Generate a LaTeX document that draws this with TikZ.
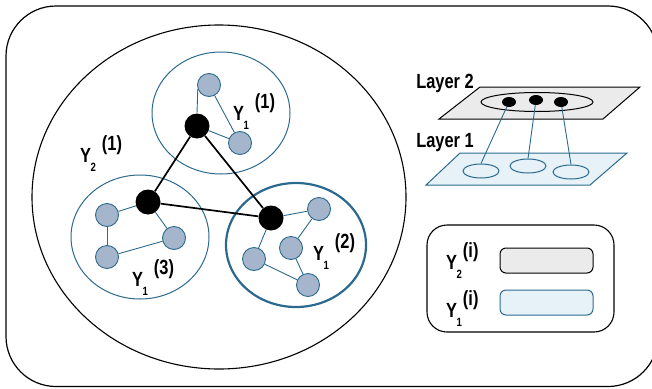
\documentclass[tikz,border=0pt]{standalone}
\usepackage{fontspec}
\setmainfont[FakeStretch=0.8]{Liberation Sans}
\usetikzlibrary{shapes.geometric}

\definecolor{edgeblue}{HTML}{2B6A8E}
\definecolor{leaffill}{HTML}{A5B5CC}
\definecolor{planegrey}{HTML}{EBEBEB}
\definecolor{planeblue}{HTML}{E6F2F8}

% Y with a small subscript and a raised index
\newcommand{\ylab}[3][6pt]{Y\kern-0.5pt\raisebox{-9pt}{\fontsize{12}{12}\selectfont #2}\kern#1\raisebox{12pt}{#3}}

\begin{document}
\begin{tikzpicture}[x=1pt,y=-1pt,
  every node/.style={font=\fontsize{20.5}{24}\selectfont\bfseries},
  leaf/.style={circle,draw=edgeblue,fill=leaffill,line width=0.9pt,minimum size=23pt,inner sep=0pt},
  hub/.style={circle,fill=black,minimum size=25pt,inner sep=0pt},
  link/.style={draw=edgeblue,line width=0.9pt},
  tie/.style={draw=black,line width=1.7pt},
  group/.style={draw=edgeblue,line width=1pt},
  lab/.style={anchor=base west,inner sep=0pt}]
  \useasboundingbox (0,0) rectangle (652,388);
  \clip (0,0) rectangle (652,388);
  \draw[line width=1.2pt,rounded corners=50pt] (6,6) rectangle (658,386.5);

  % layer 2 groups
  \draw[line width=1.1pt] (219,197) ellipse [x radius=187pt, y radius=172pt];
  \draw[group] (221,113) ellipse [x radius=69pt, y radius=61pt];
  \draw[group] (140,237) ellipse [x radius=69pt, y radius=62pt];
  \draw[group,line width=2.2pt] (296,245) ellipse [x radius=70pt, y radius=62pt];

  \node[hub] (top) at (197,126) {};
  \node[hub] (left) at (148,202) {};
  \node[hub] (right) at (271,218) {};

  \node[leaf] (a) at (209,85) {};
  \node[leaf] (b) at (240,143) {};
  \node[leaf] (c) at (107,215) {};
  \node[leaf] (d) at (107,257) {};
  \node[leaf] (e) at (174,238) {};
  \node[leaf] (f) at (319,209) {};
  \node[leaf] (g) at (291,248) {};
  \node[leaf] (h) at (254,259) {};
  \node[leaf] (k) at (308,285) {};

  \draw[tie] (top) -- (left);
  \draw[tie] (top) -- (right);
  \draw[tie] (left) -- (right);

  \draw[link] (a.200) -- (top.north);
  \draw[link] (a) -- (b);
  \draw[link] (top) -- (b);
  \draw[link] (left) -- (c);
  \draw[link] (c) -- (d);
  \draw[link] (d) -- (e);
  \draw[link] (left) -- (e);
  \draw[link] (right) -- (f);
  \draw[link] (f) -- (g);
  \draw[link] (g) -- (k);
  \draw[link] (right) -- (h);
  \draw[link] (h) -- (k);

  \node[lab] (y11) at (233,120) {\ylab{1}{(1)}};
  \node[lab] (y21) at (80,162) {\ylab{2}{(1)}};
  \node[lab] (y13) at (132,286) {\ylab{1}{(3)}};
  \node[lab] (y12) at (313,260) {\ylab{1}{(2)}};

  % the two layers
  \node (layer2) at (445,83) {Layer 2};
  \node (layer1) at (445,143) {Layer 1};
  \draw[fill=planegrey,line width=1pt] (480,87) -- (640,87) -- (603,119) -- (439,119) -- cycle;
  \draw[fill=planeblue,draw=edgeblue,line width=1pt] (460,153) -- (627,153) -- (590,185) -- (426,185) -- cycle;
  \node[ellipse,draw,line width=1pt,minimum width=112pt,minimum height=19pt,inner sep=0pt] (grp) at (537,102) {};
  \node[ellipse,fill=black,minimum width=14pt,minimum height=10pt,inner sep=0pt] (p1) at (509,102) {};
  \node[ellipse,fill=black,minimum width=14pt,minimum height=10pt,inner sep=0pt] (p2) at (536,100) {};
  \node[ellipse,fill=black,minimum width=14pt,minimum height=10pt,inner sep=0pt] (p3) at (561,102) {};
  \node[ellipse,draw=edgeblue,line width=1pt,minimum width=36pt,minimum height=14pt,inner sep=0pt] (q1) at (481,171) {};
  \node[ellipse,draw=edgeblue,line width=1pt,minimum width=36pt,minimum height=14pt,inner sep=0pt] (q2) at (528,166) {};
  \node[ellipse,draw=edgeblue,line width=1pt,minimum width=36pt,minimum height=14pt,inner sep=0pt] (q3) at (571,172) {};
  \draw[link] (p1) -- (q1.north);
  \draw[link] (p2) -- (q2.north);
  \draw[link] (p3) -- (q3.north);

  % legend
  \draw[line width=1.1pt,rounded corners=20pt] (427,225) rectangle (614,332);
  \node[draw,line width=1pt,fill=planegrey,rounded corners=6pt,minimum width=93pt,minimum height=25pt] (bar2) at (546.5,260.5) {};
  \node[draw=edgeblue,line width=1pt,fill=planeblue,rounded corners=6pt,minimum width=93pt,minimum height=25pt] (bar1) at (546.5,302.5) {};
  \node[lab] (y2i) at (446,269) {\ylab[1pt]{2}{(i)}};
  \node[lab] (y1i) at (446,317) {\ylab[1pt]{1}{(i)}};
\end{tikzpicture}
\end{document}
